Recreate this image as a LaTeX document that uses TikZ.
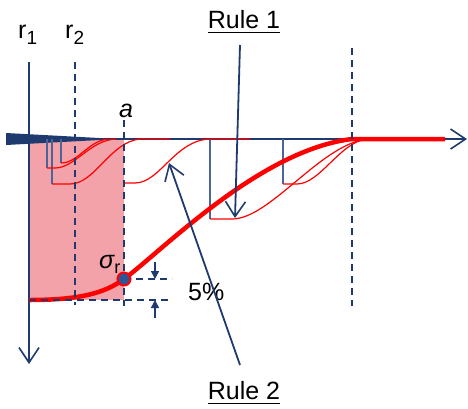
\documentclass[tikz,border=0pt]{standalone}
\usepackage{fontspec}
\setmainfont{Liberation Sans}
\usetikzlibrary{arrows.meta}
\definecolor{navy}{HTML}{1F3A6E}
\definecolor{steel}{HTML}{4A6699}
\definecolor{pinkfill}{HTML}{F2A2A8}
\definecolor{dotblue}{HTML}{2E5597}

\begin{document}
\begin{tikzpicture}[x=1pt, y=-1pt,
    lbl/.style={font=\fontsize{25}{28}\selectfont, inner sep=0pt},
    guide/.style={navy, line width=2pt, dash pattern=on 7pt off 5pt},
    stepline/.style={steel, line width=1.5pt},
    thinred/.style={red, line width=1.2pt},
    barb/.style={-{Straight Barb[length=15pt,width=20pt,line width=1.6pt]}},
    smallarrow/.style={-{Triangle[length=8pt,width=8pt]}}]
    \useasboundingbox (0,0) rectangle (468,408);

    % Shaded zone between r1 and a
    \fill[pinkfill] (29,139) rectangle (124,300);
    \fill[navy] (6,133) -- (118,139) -- (6,145) -- cycle;

    % Axes
    \draw[navy, line width=1.5pt, barb] (29,139) -- (467,139);
    \draw[navy, line width=1.5pt, barb] (29,62) -- (29,364);

    % Steps
    \draw[stepline] (47,139) -- (47,168);
    \draw[stepline] (52,139) -- (52,184);
    \draw[stepline] (61,139) -- (61,163);
    \draw[stepline] (210,139) -- (210,219);
    \draw[stepline] (283,139) -- (283,184);

    % Thin red curves
    \draw[thinred] (47,168) -- (55,168) .. controls (75,168) and (90,140) .. (116,139);
    \draw[thinred] (61,163) .. controls (78,163) and (88,141) .. (108,139);
    \draw[thinred] (52,184) -- (70,184) .. controls (95,184) and (110,142) .. (140,139) -- (170,139);
    \draw[thinred] (124,183) -- (135,183) .. controls (160,183) and (175,140) .. (210,139) -- (250,139);
    \draw[thinred] (210,219) -- (232,219) .. controls (270,219) and (320,145) .. (367,139);
    \draw[thinred] (283,184) -- (297,184) .. controls (320,184) and (340,142) .. (367,139);

    % Thick red curve
    \draw[red, line width=4.5pt] (29,300) .. controls (80,300) and (105,293) .. (124,279)
        .. controls (162,251) and (260,150) .. (352,139) -- (445,139);

    % Guides
    \draw[guide] (75,62) -- (75,305);
    \draw[guide] (124,120) -- (124,306);
    \draw[guide] (352,48) -- (352,306);
    \draw[guide] (124,279) -- (172,279);
    \draw[guide] (29,300) -- (172,300);

    % 5% marks
    \coordinate (topbar) at (155,279);
    \coordinate (botbar) at (155,300);
    \draw[navy, line width=1.5pt, smallarrow] (155,262) -- (topbar);
    \draw[navy, line width=1.5pt, smallarrow] (155,318) -- (botbar);

    \filldraw[fill=dotblue, draw=red, line width=2pt] (124,279) circle (6.5pt);

    % Labels
    \node[lbl, anchor=base west] (r1lab) at (18,38) {r\raisebox{-6pt}{\fontsize{19}{19}\selectfont 1}};
    \node[lbl, anchor=base west] (r2lab) at (65,38) {r\raisebox{-6pt}{\fontsize{19}{19}\selectfont 2}};
    \node[lbl, anchor=base] (alab) at (126,117) {\itshape a};
    \node[lbl, anchor=base west] (sigmalab) at (99,268) {\itshape σ\raisebox{-5pt}{\upshape\fontsize{18}{18}\selectfont r}};
    \node[lbl, anchor=base west] (pct) at (188,300) {5\%};
    \node[lbl, anchor=base] (ruleone) at (244,28) {Rule 1};
    \node[lbl, anchor=base] (ruletwo) at (244,399) {Rule 2};
    \draw[black, line width=1.8pt] ([yshift=-4pt]ruleone.south west) -- ([yshift=-4pt]ruleone.south east);
    \draw[black, line width=1.8pt] ([yshift=-4pt]ruletwo.south west) -- ([yshift=-4pt]ruletwo.south east);

    % Rule arrows
    \coordinate (ruleonetail) at (240,45);
    \coordinate (ruleonetip) at (235,218);
    \coordinate (ruletwotail) at (240,365);
    \coordinate (ruletwotip) at (169,163);
    \draw[navy, line width=1.8pt, barb] (ruleonetail) -- (ruleonetip);
    \draw[navy, line width=1.8pt, barb] (ruletwotail) -- (ruletwotip);
\end{tikzpicture}
\end{document}
